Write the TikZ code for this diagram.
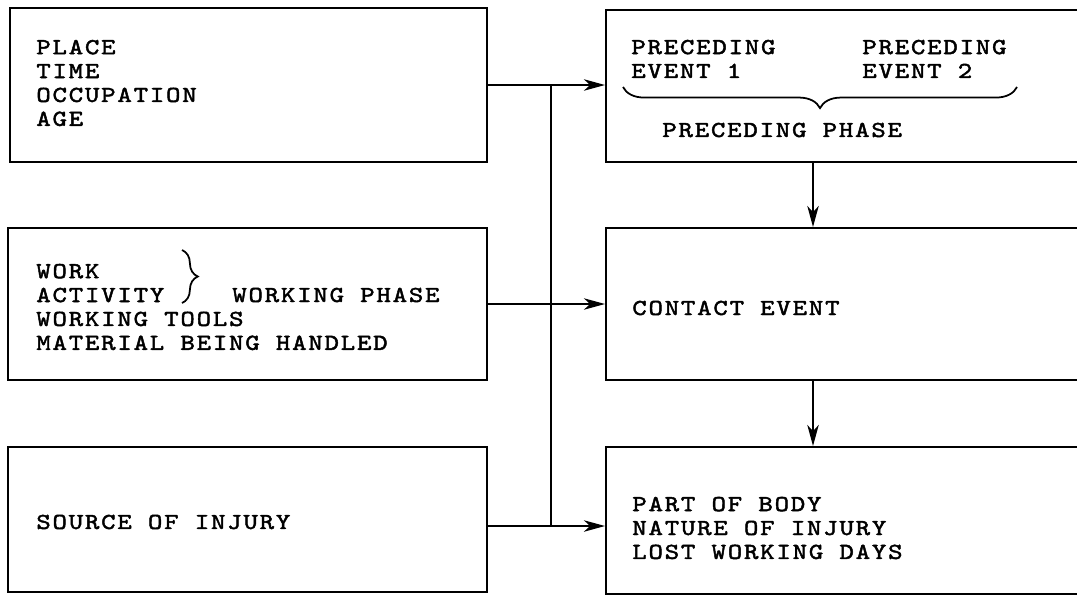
\documentclass[tikz,border=0pt]{standalone}
\usepackage{fontspec}
\newfontfamily\typefont{lmmono10-regular}[Extension=.otf, LetterSpace=8, FakeBold=2, FakeStretch=1.2]
\usetikzlibrary{arrows.meta,fit,decorations.pathreplacing}

\begin{document}
\begin{tikzpicture}[x=0.02cm, y=-0.02cm, >={Stealth[length=12pt,width=6.5pt,inset=3.5pt]},
  box/.style={draw, line width=1.1pt, inner sep=0pt},
  lbl/.style={font=\typefont\fontsize{13}{13.6}\selectfont, align=left, inner sep=0pt, anchor=west},
  flow/.style={->, line width=1.1pt}]
  \clip (0,0) rectangle (1077,596);

  % Boxes on the left
  \node[box, fit={(10,8) (487,162)}] (setting) {};
  \node[box, fit={(8,228) (487,380)}] (work) {};
  \node[box, fit={(8,447) (487,592)}] (source) {};

  % Boxes on the right (they run past the page edge)
  \node[box, fit={(606,10) (1100,162)}] (preceding) {};
  \node[box, fit={(606,228) (1100,380)}] (contact) {};
  \node[box, fit={(606,447) (1100,594)}] (outcome) {};

  % texts
  \node[lbl] (settingtxt) at (36,83) {PLACE\\TIME\\OCCUPATION\\AGE};
  \node[lbl] (worktxt) at (36,307) {WORK\\ACTIVITY\\WORKING TOOLS\\MATERIAL BEING HANDLED};
  \node[lbl] (workphase) at (232,295) {WORKING PHASE};
  \node[lbl] (sourcetxt) at (36,522) {SOURCE OF INJURY};
  \node[lbl] (event1) at (631,59) {PRECEDING\\EVENT 1};
  \node[lbl] (event2) at (862,59) {PRECEDING\\EVENT 2};
  \node[lbl] (prephase) at (662,130) {PRECEDING PHASE};
  \node[lbl] (contacttxt) at (632,308) {CONTACT EVENT};
  \node[lbl] (outcometxt) at (632,528) {PART OF BODY\\NATURE OF INJURY\\LOST WORKING DAYS};

  % braces
  \draw[decorate, decoration={brace, amplitude=9pt}, line width=1pt] (182,250) -- (182,303);
  \draw[decorate, decoration={brace, mirror, amplitude=12pt}, line width=1pt] (623,87) -- (1017,87);

  % connectors
  \coordinate (bus) at (551,0);
  \coordinate (down) at (813,0);
  \coordinate (srcout) at (487,526);
  \draw[flow] (setting.east) -- (setting.east -| preceding.west);
  \draw[flow] (work.east) -- (work.east -| contact.west);
  \draw[flow] (srcout) -- (srcout -| outcome.west);
  \draw[line width=1.1pt] (setting.east -| bus) -- (srcout -| bus);
  \draw[flow] (preceding.south -| down) -- (contact.north -| down);
  \draw[flow] (contact.south -| down) -- (outcome.north -| down);
\end{tikzpicture}
\end{document}
